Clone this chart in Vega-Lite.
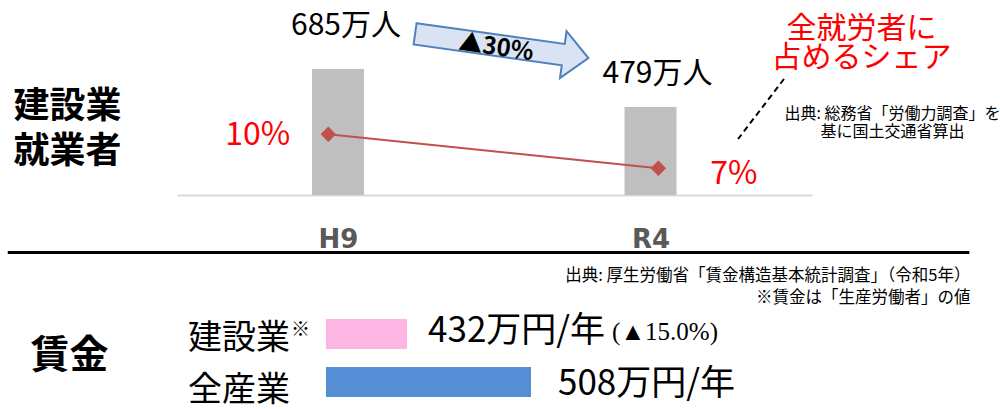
{
  "$schema": "https://vega.github.io/schema/vega-lite/v6.json",
  "width": 1000,
  "height": 409,
  "padding": 0,
  "autosize": {"type": "none"},
  "background": "white",
  "config": {
    "font": "Noto Sans CJK JP",
    "view": {"stroke": null},
    "axis": {"grid": false, "domain": false, "ticks": false, "labels": false, "tickSize": 0}
  },
  "datasets": {
    "workers": [
      {"period": "H9", "year": 1997, "workers": 685, "label": "685万人", "share": 10, "shareLabel": "10%"},
      {"period": "R4", "year": 2022, "workers": 479, "label": "479万人", "share": 7, "shareLabel": "7%"}
    ],
    "change": [
      {"from": "H9", "to": "R4", "change": "▲30%"}
    ],
    "wages": [
      {"industry": "建設業", "wage": 432, "label": "432万円/年", "change": "(▲15.0%)"},
      {"industry": "全産業", "wage": 508, "label": "508万円/年", "change": ""}
    ]
  },
  "layer": [
    {
      "data": {"name": "workers"},
      "layer": [
        {
          "mark": {"type": "bar", "color": "#BFBFBF", "size": 52, "orient": "vertical"},
          "encoding": {
            "x": {
              "field": "year", "type": "quantitative",
              "scale": {"domain": [1984.52, 2034.52], "range": [177, 812], "nice": false, "zero": false},
              "axis": {
                "orient": "bottom", "offset": -214, "values": [1997, 2022],
                "labelExpr": "datum.value == 1997 ? 'H9' : 'R4'",
                "domain": true, "domainColor": "#D9D9D9", "domainWidth": 2,
                "labels": true, "labelFont": "DejaVu Sans", "labelFontWeight": "bold", "labelFontSize": 26,
                "labelColor": "#595959", "labelPadding": 44, "labelBaseline": "middle", "labelFlush": false,
                "title": ["出典: 総務省「労働力調査」を", "基に国土交通省算出"],
                "titleX": 892, "titleY": -82, "titleAlign": "center", "titleBaseline": "middle",
                "titleFont": "Noto Sans CJK JP", "titleFontSize": 16, "titleFontWeight": "normal",
                "titleLineHeight": 18, "titleColor": "black"
              }
            },
            "y": {
              "field": "workers", "type": "quantitative",
              "scale": {"domain": [0, 1060], "range": [195, 0], "nice": false},
              "axis": {
                "orient": "left",
                "title": ["建設業", "就業者"],
                "titleAngle": 0, "titleX": 67, "titleY": 106, "titleAlign": "center", "titleBaseline": "middle",
                "titleFont": "Noto Sans CJK JP", "titleFontSize": 36, "titleFontWeight": "bold",
                "titleLineHeight": 45, "titleColor": "black"
              }
            }
          }
        },
        {
          "transform": [{"filter": "datum.period == 'H9'"}],
          "mark": {"type": "text", "fontSize": 30, "dx": 8, "dy": -43, "align": "center", "baseline": "middle", "color": "black"},
          "encoding": {
            "x": {"field": "year", "type": "quantitative"},
            "y": {"field": "workers", "type": "quantitative"},
            "text": {"field": "label"}
          }
        },
        {
          "transform": [{"filter": "datum.period == 'R4'"}],
          "mark": {"type": "text", "fontSize": 30, "dx": 7, "dy": -33, "align": "center", "baseline": "middle", "color": "black"},
          "encoding": {
            "x": {"field": "year", "type": "quantitative"},
            "y": {"field": "workers", "type": "quantitative"},
            "text": {"field": "label"}
          }
        },
        {
          "data": {"name": "change"},
          "mark": {
            "type": "point",
            "shape": "M-1,-0.123L0.71,-0.123L0.71,-0.27L1,0L0.71,0.27L0.71,0.123L-1,0.123Z",
            "size": 30625, "angle": 8, "filled": true, "fill": "#DAE3F3", "stroke": "#4F81BD", "strokeWidth": 2, "opacity": 1
          },
          "encoding": {
            "x": {"datum": 2010.1, "type": "quantitative"},
            "y": {"datum": 810, "type": "quantitative"}
          }
        },
        {
          "data": {"name": "change"},
          "mark": {"type": "text", "angle": 8, "font": "Noto Sans CJK JP", "fontWeight": "bold", "fontSize": 24, "align": "center", "baseline": "middle", "color": "black"},
          "encoding": {
            "x": {"datum": 2009.64, "type": "quantitative"},
            "y": {"datum": 799, "type": "quantitative"},
            "text": {"field": "change"}
          }
        },
        {
          "data": {"name": "change"},
          "mark": {"type": "rule", "color": "black", "strokeWidth": 3},
          "encoding": {
            "x": {"datum": 1970.58, "type": "quantitative"},
            "x2": {"datum": 2047.51},
            "y": {"datum": -312.6, "type": "quantitative"}
          }
        }
      ]
    },
    {
      "data": {"name": "workers"},
      "layer": [
        {
          "mark": {"type": "line", "color": "#C0504D", "strokeWidth": 2},
          "encoding": {
            "x": {
              "field": "year", "type": "quantitative",
              "scale": {"domain": [1985.54, 2033.64], "range": [177, 812], "nice": false, "zero": false},
              "axis": null
            },
            "y": {
              "field": "share", "type": "quantitative",
              "scale": {"domain": [4.644, 21.85], "range": [195, 0], "nice": false, "zero": false},
              "axis": {
                "orient": "right",
                "title": ["全就労者に", "占めるシェア"],
                "titleAngle": 0, "titleX": -139, "titleY": 28, "titleAlign": "center", "titleBaseline": "middle",
                "titleFont": "Noto Sans CJK JP", "titleFontSize": 30, "titleFontWeight": "normal",
                "titleLineHeight": 29, "titleColor": "#FF0000"
              }
            }
          }
        },
        {
          "mark": {"type": "point", "shape": "diamond", "size": 240, "filled": true, "color": "#C0504D", "opacity": 1},
          "encoding": {
            "x": {"field": "year", "type": "quantitative"},
            "y": {"field": "share", "type": "quantitative"}
          }
        },
        {
          "transform": [{"filter": "datum.period == 'H9'"}],
          "mark": {"type": "text", "fontSize": 32, "dx": -38, "dy": 1, "align": "right", "baseline": "middle", "color": "#FF0000"},
          "encoding": {
            "x": {"field": "year", "type": "quantitative"},
            "y": {"field": "share", "type": "quantitative"},
            "text": {"field": "shareLabel"}
          }
        },
        {
          "transform": [{"filter": "datum.period == 'R4'"}],
          "mark": {"type": "text", "fontSize": 32, "dx": 52, "dy": 6, "align": "left", "baseline": "middle", "color": "#FF0000"},
          "encoding": {
            "x": {"field": "year", "type": "quantitative"},
            "y": {"field": "share", "type": "quantitative"},
            "text": {"field": "shareLabel"}
          }
        },
        {
          "data": {"name": "change"},
          "mark": {"type": "rule", "color": "black", "strokeWidth": 2, "strokeDash": [6, 4]},
          "encoding": {
            "x": {"datum": 2031.52, "type": "quantitative"},
            "x2": {"datum": 2028.04},
            "y": {"datum": 14.88, "type": "quantitative"},
            "y2": {"datum": 9.585}
          }
        }
      ]
    },
    {
      "data": {"name": "wages"},
      "layer": [
        {
          "mark": {"type": "bar", "orient": "horizontal"},
          "encoding": {
            "y": {
              "field": "industry", "type": "nominal",
              "scale": {"domain": ["建設業", "全産業"], "range": [310, 406], "paddingInner": 0.375, "paddingOuter": 0.1875},
              "axis": {
                "orient": "left", "title": "賃金",
                "titleAngle": 0, "titleX": 69, "titleY": 355, "titleAlign": "center", "titleBaseline": "middle",
                "titleFont": "Noto Sans CJK JP", "titleFontSize": 39, "titleFontWeight": "bold", "titleColor": "black"
              }
            },
            "x": {
              "field": "wage", "type": "quantitative",
              "scale": {"domain": [382.3, 508], "range": [326, 531], "nice": false, "zero": false},
              "axis": {
                "orient": "bottom",
                "title": ["出典: 厚生労働省「賃金構造基本統計調査」（令和5年）", "※賃金は「生産労働者」の値"],
                "titleX": 970, "titleY": -134, "titleAlign": "right", "titleBaseline": "middle",
                "titleFont": "Noto Sans CJK JP", "titleFontSize": 16.5, "titleFontWeight": "normal",
                "titleLineHeight": 22.5, "titleColor": "black"
              }
            },
            "x2": {"datum": 382.3},
            "color": {
              "field": "industry", "type": "nominal",
              "scale": {"domain": ["建設業", "全産業"], "range": ["#FDB6E3", "#558ED5"]},
              "legend": null
            }
          }
        },
        {
          "transform": [{"filter": "datum.industry == '建設業'"}],
          "mark": {"type": "text", "fontSize": 35, "dx": 21, "dy": -3, "align": "left", "baseline": "middle", "color": "black"},
          "encoding": {
            "x": {"field": "wage", "type": "quantitative"},
            "y": {"field": "industry", "type": "nominal"},
            "text": {"field": "label"}
          }
        },
        {
          "transform": [{"filter": "datum.industry == '全産業'"}],
          "mark": {"type": "text", "fontSize": 35, "dx": 27, "dy": 2, "align": "left", "baseline": "middle", "color": "black"},
          "encoding": {
            "x": {"field": "wage", "type": "quantitative"},
            "y": {"field": "industry", "type": "nominal"},
            "text": {"field": "label"}
          }
        },
        {
          "transform": [{"filter": "datum.industry == '建設業'"}],
          "mark": {"type": "text", "font": "Liberation Serif, Noto Sans CJK JP", "fontSize": 25, "dx": 205, "dy": -2, "align": "left", "baseline": "middle", "color": "black"},
          "encoding": {
            "x": {"field": "wage", "type": "quantitative"},
            "y": {"field": "industry", "type": "nominal"},
            "text": {"field": "change"}
          }
        },
        {
          "transform": [{"filter": "datum.industry == '建設業'"}],
          "mark": {"type": "text", "fontSize": 34, "dx": -138, "dy": 5, "align": "left", "baseline": "middle", "color": "black"},
          "encoding": {
            "x": {"datum": 382.3, "type": "quantitative"},
            "y": {"field": "industry", "type": "nominal"},
            "text": {"field": "industry"}
          }
        },
        {
          "transform": [{"filter": "datum.industry == '全産業'"}],
          "mark": {"type": "text", "fontSize": 34, "dx": -138, "dy": 9, "align": "left", "baseline": "middle", "color": "black"},
          "encoding": {
            "x": {"datum": 382.3, "type": "quantitative"},
            "y": {"field": "industry", "type": "nominal"},
            "text": {"field": "industry"}
          }
        },
        {
          "transform": [{"filter": "datum.industry == '建設業'"}],
          "mark": {"type": "text", "fontSize": 19, "dx": -35, "dy": -4, "align": "left", "baseline": "middle", "color": "black"},
          "encoding": {
            "x": {"datum": 382.3, "type": "quantitative"},
            "y": {"field": "industry", "type": "nominal"},
            "text": {"value": "※"}
          }
        }
      ]
    }
  ],
  "resolve": {
    "scale": {"x": "independent", "y": "independent", "color": "independent"},
    "axis": {"x": "independent", "y": "independent"}
  }
}
